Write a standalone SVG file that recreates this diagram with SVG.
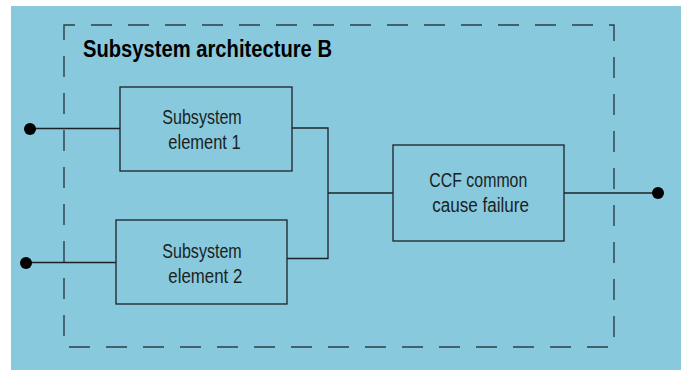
<svg xmlns="http://www.w3.org/2000/svg" width="684" height="370" viewBox="0 0 684 370">
<style>
.box{fill:none;stroke:#1c2328;stroke-width:1.3}
.wire{fill:none;stroke:#1c2328;stroke-width:1.3}
.dot{fill:#000}
.lbl{font-family:"Liberation Sans",Arial,sans-serif;font-size:19.5px;fill:#1a1f22}
.title{font-family:"Liberation Sans",Arial,sans-serif;font-size:23px;font-weight:bold;fill:#000}
</style>
<rect x="0" y="0" width="684" height="370" fill="#ffffff"/>
<rect x="11" y="6" width="670" height="364" fill="#88c9dd"/>
<g id="boundary">
<rect x="64" y="25" width="550" height="322" fill="none" stroke="#2a3f48" stroke-width="1.4" stroke-dasharray="21 16" stroke-dashoffset="10"/>
<text class="title" x="83" y="57" textLength="249" lengthAdjust="spacingAndGlyphs">Subsystem architecture B</text>
</g>
<g id="connectors">
<line class="wire" x1="30" y1="128.5" x2="120" y2="128.5"/>
<line class="wire" x1="26" y1="262.5" x2="116" y2="262.5"/>
<polyline class="wire" points="292,128 328,128 328,258.5 287,258.5"/>
<line class="wire" x1="328" y1="193" x2="393" y2="193"/>
<line class="wire" x1="564" y1="193" x2="658" y2="193"/>
<circle class="dot" cx="30" cy="129" r="6"/>
<circle class="dot" cx="26" cy="263" r="6"/>
<circle class="dot" cx="658" cy="193" r="6"/>
</g>
<g id="element1">
<rect class="box" x="120" y="87" width="172" height="84"/>
<text class="lbl" x="162.3" y="124.3" textLength="79.4" lengthAdjust="spacingAndGlyphs">Subsystem</text>
<text class="lbl" x="168.3" y="149" textLength="72.4" lengthAdjust="spacingAndGlyphs">element 1</text>
</g>
<g id="element2">
<rect class="box" x="116" y="220" width="171" height="84"/>
<text class="lbl" x="162.3" y="257.5" textLength="79.4" lengthAdjust="spacingAndGlyphs">Subsystem</text>
<text class="lbl" x="168.3" y="282.5" textLength="74" lengthAdjust="spacingAndGlyphs">element 2</text>
</g>
<g id="ccf">
<rect class="box" x="393" y="145" width="171" height="96"/>
<text class="lbl" x="429.3" y="186.7" textLength="98" lengthAdjust="spacingAndGlyphs">CCF common</text>
<text class="lbl" x="432.3" y="212.3" textLength="96.7" lengthAdjust="spacingAndGlyphs">cause failure</text>
</g>
</svg>
